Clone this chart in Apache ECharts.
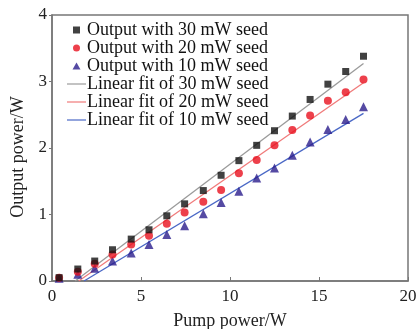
<!DOCTYPE html>
<html>
<head>
<meta charset="utf-8">
<script src="https://cdn.jsdelivr.net/npm/echarts@6/dist/echarts.min.js"></script>
<style>
  html, body { margin: 0; padding: 0; background: #fff; }
  #main { width: 420px; height: 329px; }
</style>
</head>
<body>
<div id="main"></div>
<script>
// pump power (W) for each measured point
const pump = [0.4, 1.45, 2.4, 3.4, 4.45, 5.45, 6.45, 7.45, 8.5, 9.5, 10.5, 11.5, 12.5, 13.5, 14.5, 15.5, 16.5, 17.5];
// output power (W)
const out30 = [0.05, 0.18, 0.30, 0.47, 0.63, 0.77, 0.98, 1.16, 1.36, 1.59, 1.81, 2.04, 2.26, 2.48, 2.73, 2.96, 3.15, 3.38];
const out20 = [0.05, 0.14, 0.26, 0.40, 0.55, 0.68, 0.86, 1.03, 1.19, 1.37, 1.62, 1.82, 2.04, 2.27, 2.49, 2.71, 2.84, 3.03];
const out10 = [0.04, 0.10, 0.19, 0.30, 0.42, 0.55, 0.70, 0.83, 1.01, 1.18, 1.35, 1.55, 1.70, 1.89, 2.09, 2.28, 2.43, 2.62];
// linear fit end points
const fit30X = [1.3, 17.5], fit30Y = [0, 3.27];
const fit20X = [1.5, 17.5], fit20Y = [0, 2.98];
const fit10X = [1.8, 17.5], fit10Y = [0, 2.52];

const names = [
    'Output with 30 mW seed',
    'Output with 20 mW seed',
    'Output with 10 mW seed',
    'Linear fit of 30 mW seed',
    'Linear fit of 20 mW seed',
    'Linear fit of 10 mW seed'
];

const pairs = (xs, ys) => xs.map((x, i) => [x, ys[i]]);
const font = '"Liberation Serif", "Times New Roman", serif';

// legend icons (kept to aspect inside the box)
const squareIcon = 'path://M0,0L7,0L7,7L0,7Z';
const triIcon = 'path://M4,0L8,7L0,7Z';
const lineIcon = 'path://M0,0L19,0L19,1.2L0,1.2Z';

const myChart = echarts.init(document.getElementById('main'));

const fitLine = (name, xs, ys, color) => ({
    type: 'line',
    name: name,
    data: pairs(xs, ys),
    symbol: 'none',
    color: color,
    lineStyle: { color: color, width: 1.3 },
    z: 1
});

const option = {
    animation: false,
    textStyle: { fontFamily: font },
    grid: {
        left: 52, right: 12, top: 15, bottom: 48,
        outerBoundsMode: 'none',
        show: true, borderColor: '#777', borderWidth: 1.5
    },
    legend: {
        orient: 'vertical',
        left: 62,
        top: 16,
        itemGap: 0,
        itemWidth: 19,
        itemHeight: 7,
        symbolKeepAspect: true,
        data: [
            { name: names[0], icon: squareIcon },
            { name: names[1], icon: 'circle' },
            { name: names[2], icon: triIcon },
            { name: names[3], icon: lineIcon },
            { name: names[4], icon: lineIcon },
            { name: names[5], icon: lineIcon }
        ],
        textStyle: { fontFamily: font, fontSize: 18, lineHeight: 18, color: '#111', padding: [0, 0, 0, -4] }
    },
    xAxis: {
        type: 'value',
        min: 0, max: 20, interval: 5,
        name: 'Pump power/W',
        nameLocation: 'middle',
        nameGap: 31,
        nameTextStyle: { fontFamily: font, fontSize: 18, color: '#222' },
        axisLine: { lineStyle: { color: '#777', width: 1.5 } },
        axisTick: { inside: true, length: 4, lineStyle: { color: '#777' } },
        axisLabel: { fontFamily: font, fontSize: 17, color: '#222', margin: 7 },
        splitLine: { show: false }
    },
    yAxis: {
        type: 'value',
        min: 0, max: 4, interval: 1,
        name: 'Output power/W',
        nameLocation: 'middle',
        nameGap: 22,
        nameTextStyle: { fontFamily: font, fontSize: 18, color: '#222', padding: [0, 18, 0, 0] },
        axisLine: { show: true, lineStyle: { color: '#777', width: 1.5 } },
        axisTick: { show: true, length: 3, lineStyle: { color: '#777' } },
        axisLabel: { fontFamily: font, fontSize: 17, color: '#222', margin: 5 },
        splitLine: { show: false }
    },
    series: [
        {
            type: 'scatter', name: names[0], data: pairs(pump, out30),
            symbol: 'rect', symbolSize: 7, color: '#111', z: 4
        },
        {
            type: 'scatter', name: names[1], data: pairs(pump, out20),
            symbol: 'circle', symbolSize: 8, color: '#e8101e', z: 3
        },
        {
            type: 'scatter', name: names[2], data: pairs(pump, out10),
            symbol: 'triangle', symbolSize: 9, color: '#2b1d8c', z: 2
        },
        fitLine(names[3], fit30X, fit30Y, '#9a9a9a'),
        fitLine(names[4], fit20X, fit20Y, '#f07a7a'),
        fitLine(names[5], fit10X, fit10Y, '#4a68c6')
    ]
};

myChart.setOption(option);
</script>
</body>
</html>
